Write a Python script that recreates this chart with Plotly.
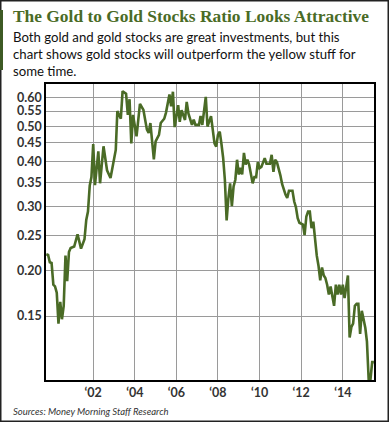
import plotly.graph_objects as go

months = [
    "1999-10", "1999-11", "1999-12", "2000-01", "2000-02", "2000-03", "2000-04", "2000-05",
    "2000-06", "2000-07", "2000-08", "2000-09", "2000-10", "2000-11", "2000-12", "2001-02",
    "2001-04", "2001-06", "2001-08", "2001-09", "2001-10", "2001-11", "2001-12", "2002-01",
    "2002-02", "2002-04", "2002-05", "2002-07", "2002-09", "2002-11", "2003-02", "2003-03",
    "2003-05", "2003-06", "2003-08", "2003-09", "2003-10", "2003-11", "2003-12", "2004-02",
    "2004-04", "2004-06", "2004-08", "2004-09", "2004-10", "2004-12", "2005-01", "2005-03",
    "2005-04", "2005-06", "2005-07", "2005-09", "2005-10", "2005-11", "2005-12", "2006-02",
    "2006-03", "2006-04", "2006-06", "2006-07", "2006-08", "2006-10", "2006-11", "2006-12",
    "2007-02", "2007-03", "2007-04", "2007-06", "2007-07", "2007-08", "2007-09", "2007-11",
    "2007-12", "2008-01", "2008-02", "2008-03", "2008-04", "2008-05", "2008-06", "2008-07",
    "2008-08", "2008-09", "2008-10", "2008-11", "2008-12", "2009-01", "2009-02", "2009-03",
    "2009-04", "2009-05", "2009-06", "2009-07", "2009-09", "2009-10", "2009-11", "2009-12",
    "2010-01", "2010-02", "2010-04", "2010-05", "2010-07", "2010-08", "2010-09", "2010-10",
    "2010-11", "2011-01", "2011-02", "2011-04", "2011-05", "2011-06", "2011-08", "2011-09",
    "2011-10", "2011-11", "2011-12", "2012-02", "2012-03", "2012-04", "2012-05", "2012-06",
    "2012-07", "2012-08", "2012-09", "2012-10", "2012-11", "2012-12", "2013-01", "2013-02",
    "2013-03", "2013-04", "2013-05", "2013-06", "2013-08", "2013-09", "2013-10", "2013-11",
    "2013-12", "2014-01", "2014-02", "2014-03", "2014-04", "2014-05", "2014-06", "2014-07",
    "2014-08", "2014-09", "2014-10", "2014-11", "2014-12", "2015-01", "2015-02", "2015-03",
    "2015-04", "2015-05", "2015-06", "2015-07",
]

ratio = [
    0.222, 0.221, 0.211, 0.210, 0.183, 0.181, 0.174, 0.143,
    0.164, 0.147, 0.160, 0.220, 0.187, 0.225, 0.231, 0.233,
    0.252, 0.230, 0.244, 0.276, 0.291, 0.343, 0.362, 0.446,
    0.344, 0.426, 0.348, 0.440, 0.378, 0.360, 0.430, 0.550,
    0.524, 0.624, 0.614, 0.537, 0.593, 0.448, 0.537, 0.469,
    0.576, 0.554, 0.489, 0.479, 0.510, 0.405, 0.454, 0.473,
    0.510, 0.524, 0.544, 0.611, 0.567, 0.622, 0.497, 0.571,
    0.514, 0.553, 0.520, 0.583, 0.541, 0.504, 0.521, 0.504,
    0.504, 0.533, 0.504, 0.602, 0.499, 0.516, 0.533, 0.448,
    0.439, 0.473, 0.483, 0.448, 0.409, 0.356, 0.275, 0.316,
    0.348, 0.301, 0.341, 0.356, 0.404, 0.368, 0.384, 0.368,
    0.422, 0.392, 0.404, 0.392, 0.348, 0.362, 0.362, 0.398,
    0.383, 0.386, 0.408, 0.394, 0.394, 0.417, 0.374, 0.404,
    0.398, 0.366, 0.346, 0.324, 0.317, 0.332, 0.332, 0.310,
    0.299, 0.279, 0.271, 0.268, 0.2505, 0.282, 0.291, 0.291,
    0.262, 0.273, 0.2435, 0.220, 0.206, 0.188, 0.204, 0.194,
    0.191, 0.183, 0.172, 0.181, 0.160, 0.183, 0.172, 0.183,
    0.172, 0.183, 0.168, 0.183, 0.194, 0.131, 0.140, 0.143,
    0.160, 0.162, 0.162, 0.134, 0.155, 0.147, 0.139, 0.1275,
    0.100, 0.100, 0.112, 0.112,
]

y_ticks = [0.15, 0.20, 0.25, 0.30, 0.35, 0.40, 0.45, 0.50, 0.55, 0.60]
x_tick_dates = ["2002-01-01", "2004-01-01", "2006-01-01", "2008-01-01",
                "2010-01-01", "2012-01-01", "2014-01-01"]
x_tick_labels = ["\u201802", "\u201804", "\u201806", "\u201808",
                 "\u201810", "\u201812", "\u201814"]

title_text = "The Gold to Gold Stocks Ratio Looks Attractive"
subtitle_lines = [
    "Both gold and gold stocks are great investments, but this",
    "chart shows gold stocks will outperform the yellow stuff for",
    "some time.",
]
source_text = "Sources: Money Morning Staff Research"

GREEN = "#4a6b26"

fig = go.Figure()
fig.add_trace(go.Scatter(
    x=[m + "-01" for m in months],
    y=ratio,
    mode="lines",
    line=dict(color=GREEN, width=2.6),
    hoverinfo="skip",
))

W, H = 390, 422
L, R, T, B = 46, 16, 84, 42
pw, ph = W - L - R, H - T - B


def px(xp):
    return (xp - L) / pw


def py(yp):
    return (H - B - yp) / ph


tick_font = dict(family="Lato, Liberation Sans, sans-serif", size=12.5, color="#333333")

fig.update_layout(
    width=W, height=H,
    margin=dict(l=L, r=R, t=T, b=B),
    paper_bgcolor="white", plot_bgcolor="white",
    showlegend=False,
    xaxis=dict(
        type="date",
        range=["1999-09-25", "2015-07-03"],
        tickvals=x_tick_dates, ticktext=["<b>" + t + "</b>" for t in x_tick_labels],
        showgrid=True, gridcolor="#9a9a9a", gridwidth=1,
        showline=True, linecolor="black", linewidth=1.5, mirror=True,
        ticks="", ticklen=0,
        tickfont=tick_font,
        zeroline=False,
    ),
    yaxis=dict(
        type="log",
        range=[-1.0, -0.185],
        tickvals=y_ticks, ticktext=[f"<b>{v:.2f}</b>" for v in y_ticks],
        showgrid=True, gridcolor="#9a9a9a", gridwidth=1,
        showline=True, linecolor="black", linewidth=1.5, mirror=True,
        ticks="", ticklen=0,
        tickfont=tick_font,
        zeroline=False,
    ),
)

# outer frame and green accent bar
fig.add_shape(type="rect", xref="paper", yref="paper",
              x0=px(0.75), x1=px(388.25), y0=py(421.25), y1=py(0.75),
              line=dict(color="#222222", width=1.5), layer="below")
fig.add_shape(type="rect", xref="paper", yref="paper",
              x0=px(0), x1=px(3), y0=py(70), y1=py(10),
              line=dict(width=0), fillcolor="#3d5a24", layer="below")

fig.add_annotation(text="<b>" + title_text + "</b>", xref="paper", yref="paper",
                   x=px(11), y=py(4), xanchor="left", yanchor="top", showarrow=False,
                   font=dict(family="Liberation Serif, serif", size=17.4, color=GREEN))
fig.add_annotation(text="<br>".join(subtitle_lines), xref="paper", yref="paper",
                   x=px(11), y=py(27), xanchor="left", yanchor="top", showarrow=False,
                   align="left",
                   font=dict(family="Lato, sans-serif", size=13.2, color="#111111"))
fig.add_annotation(text="<i>" + source_text + "</i>", xref="paper", yref="paper",
                   x=px(11), y=py(411), xanchor="left", yanchor="middle", showarrow=False,
                   font=dict(family="Lato, sans-serif", size=9.5, color="#333333"))

fig.write_html("out.html",
               config={"displayModeBar": False},
               post_script="document.body.style.margin='0';document.body.style.padding='0';")
